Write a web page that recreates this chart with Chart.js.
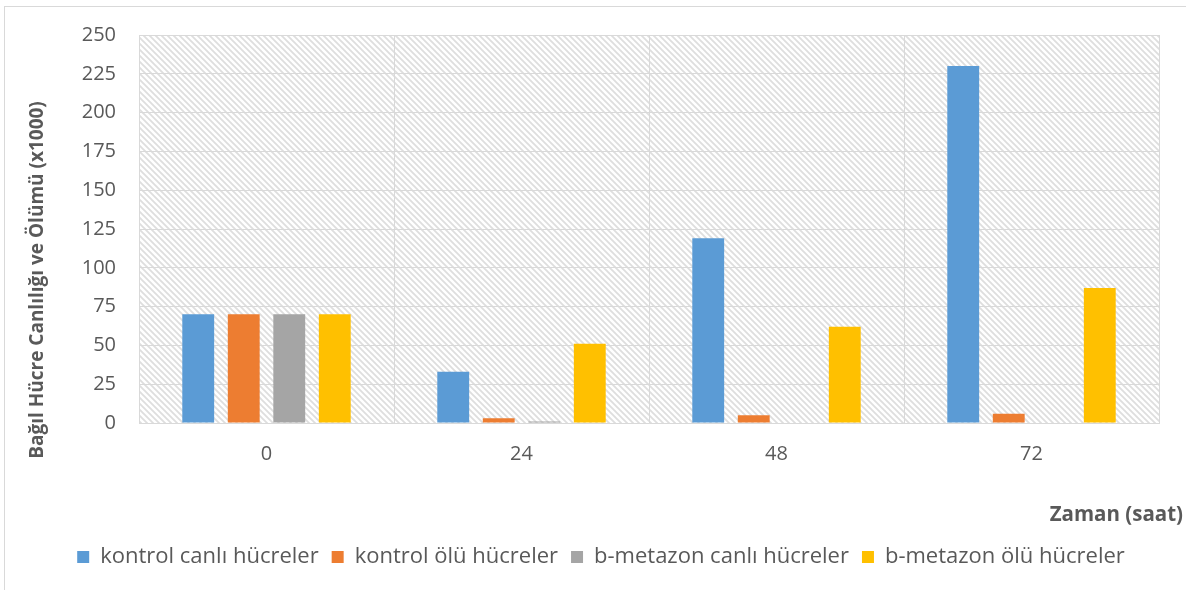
<!DOCTYPE html>
<html>
<head>
<meta charset="utf-8">
<script src="https://cdn.jsdelivr.net/npm/chart.js@4"></script>
<style>
  html, body { margin: 0; padding: 0; background: #ffffff; }
  #wrap { position: relative; width: 1186px; height: 590px; }
</style>
</head>
<body>
<div id="wrap"><canvas id="c" width="1186" height="590"></canvas></div>
<script>
// Time points (hours)
const categories = ['0', '24', '48', '72'];

// Relative cell viability / death (x1000)
const kontrolCanli = [70, 33, 119, 230];
const kontrolOlu = [70, 3, 5, 6];
const metazonCanli = [70, 1, 0, 0];
const metazonOlu = [70, 51, 62, 87];

const seriesNames = [
  'kontrol canlı hücreler',
  'kontrol ölü hücreler',
  'b-metazon canlı hücreler',
  'b-metazon ölü hücreler'
];

const yTicks = [0, 25, 50, 75, 100, 125, 150, 175, 200, 225, 250];
const yTitle = 'Bağıl Hücre Canlılığı ve Ölümü (x1000)';
const xTitle = 'Zaman (saat)';

const FONT = "'Open Sans', 'DejaVu Sans', sans-serif";
const TEXT = '#595959';
const GRID = '#d9d9d9';

// Diagonal hatch used as the plot-area background
function makeHatch() {
  const t = document.createElement('canvas');
  t.width = 6; t.height = 6;
  const g = t.getContext('2d');
  g.fillStyle = '#ffffff';
  g.fillRect(0, 0, 6, 6);
  g.strokeStyle = '#dedede';
  g.lineWidth = 1.8;
  g.beginPath();
  g.moveTo(-1, -1); g.lineTo(7, 7);
  g.moveTo(-7, -1); g.lineTo(1, 7);
  g.moveTo(5, -1); g.lineTo(13, 7);
  g.stroke();
  return t;
}

const backdrop = {
  id: 'backdrop',
  beforeDraw(chart) {
    const { ctx, chartArea: a } = chart;
    ctx.save();
    ctx.strokeStyle = GRID;
    ctx.lineWidth = 1;
    ctx.strokeRect(4.5, 6.5, 3000, 3000);
    ctx.fillStyle = ctx.createPattern(makeHatch(), 'repeat');
    ctx.fillRect(a.left, a.top, a.right - a.left, a.bottom - a.top);
    ctx.restore();
  }
};

// Axis titles placed outside the default scale slots
const axisTitles = {
  id: 'axisTitles',
  afterDraw(chart) {
    const { ctx } = chart;
    ctx.save();
    ctx.fillStyle = TEXT;
    ctx.font = 'bold 19px ' + FONT;
    ctx.textBaseline = 'middle';
    ctx.translate(38, 280);
    ctx.rotate(-Math.PI / 2);
    ctx.textAlign = 'center';
    ctx.fillText(yTitle, 0, 0);
    ctx.restore();

    ctx.save();
    ctx.fillStyle = TEXT;
    ctx.font = 'bold 20.5px ' + FONT;
    ctx.textBaseline = 'middle';
    ctx.textAlign = 'right';
    ctx.fillText(xTitle, 1183, 515);
    ctx.restore();
  }
};

const colors = ['#5b9bd5', '#ed7d31', '#a5a5a5', '#ffc000'];
const values = [kontrolCanli, kontrolOlu, metazonCanli, metazonOlu];

new Chart(document.getElementById('c'), {
  type: 'bar',
  data: {
    labels: categories,
    datasets: values.map((v, i) => ({
      label: seriesNames[i],
      data: v,
      backgroundColor: colors[i],
      borderWidth: 0,
      categoryPercentage: 0.714,
      barPercentage: 0.70
    }))
  },
  options: {
    responsive: false,
    animation: false,
    devicePixelRatio: 1,
    layout: { padding: { left: 43, right: 27, top: 34, bottom: 12 } },
    plugins: {
      tooltip: { enabled: false },
      legend: {
        position: 'bottom',
        labels: {
          boxWidth: 12,
          boxHeight: 12,
          padding: 13,
          color: TEXT,
          font: { family: FONT, size: 22 }
        }
      }
    },
    scales: {
      x: {
        grid: { color: GRID, lineWidth: 1, drawTicks: false, offset: true },
        border: { color: GRID },
        ticks: { color: TEXT, padding: 19, font: { family: FONT, size: 20 } },
        afterFit(scale) { scale.height = 110; }
      },
      y: {
        min: 0,
        max: 250,
        afterBuildTicks(scale) { scale.ticks = yTicks.map(v => ({ value: v })); },
        grid: { color: GRID, lineWidth: 1, drawTicks: false },
        border: { color: GRID },
        ticks: { color: TEXT, padding: 23, font: { family: FONT, size: 20 } },
        afterFit(scale) { scale.width = 96; }
      }
    }
  },
  plugins: [backdrop, axisTitles]
});
</script>
</body>
</html>
